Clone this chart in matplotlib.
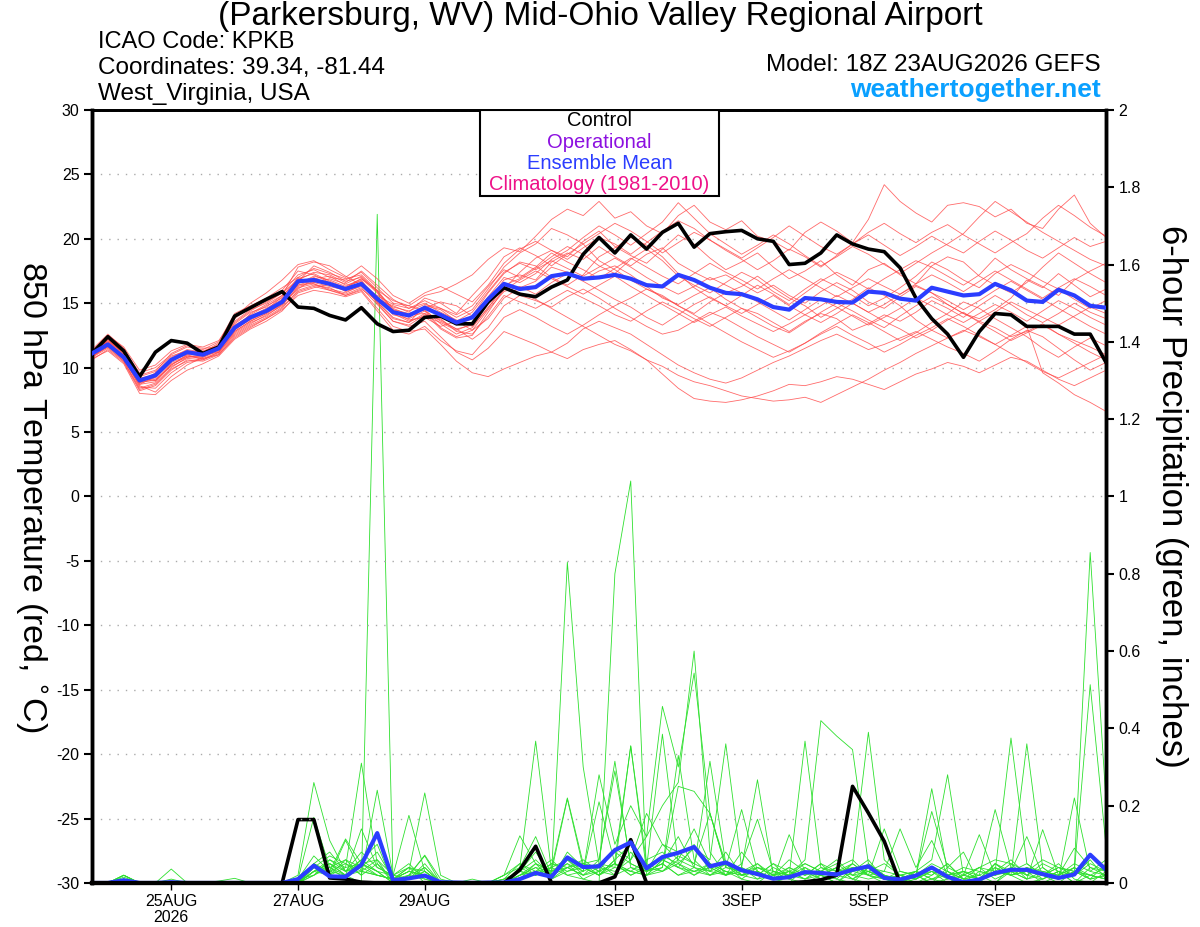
import matplotlib.pyplot as plt
import numpy as np
import pandas as pd
from matplotlib.patches import Rectangle

# --- Data (GEFS 18Z 23AUG2026, 6-hourly) ---
times = pd.date_range('2026-08-23 18:00', periods=65, freq='6h')

tick_dates = pd.to_datetime(['2026-08-25', '2026-08-27', '2026-08-29', '2026-09-01',
                             '2026-09-03', '2026-09-05', '2026-09-07'])
tick_labels = ['25AUG\n2026', '27AUG', '29AUG', '1SEP', '3SEP', '5SEP', '7SEP']

# 850 hPa temperature, control run
temp_control = [11.1, 12.4, 11.3, 9.3, 11.2, 12.1, 11.9, 11.1, 11.6, 14.0, 14.65, 15.3, 15.9,
                14.7, 14.6, 14.05, 13.7, 14.65, 13.4, 12.8, 12.9, 13.9, 14.0, 13.4, 13.4,
                15.1, 16.2, 15.7, 15.5, 16.25, 16.8, 18.8, 20.1, 18.9, 20.3, 19.2, 20.5,
                21.2, 19.35, 20.4, 20.55, 20.65, 20.0, 19.8, 18.0, 18.1, 18.9, 20.3, 19.6,
                19.2, 19.0, 17.75, 15.4, 13.8, 12.6, 10.8, 12.8, 14.2, 14.1, 13.2, 13.2,
                13.2, 12.6, 12.6, 10.4]

# 850 hPa temperature, ensemble mean
temp_mean = [11.1, 11.8, 10.8, 9.0, 9.4, 10.6, 11.2, 11.0, 11.5, 13.1, 13.9, 14.4, 15.1,
             16.7, 16.8, 16.5, 16.1, 16.5, 15.35, 14.3, 14.05, 14.65, 14.1, 13.5, 13.9,
             15.3, 16.5, 16.1, 16.25, 17.1, 17.3, 16.9, 17.0, 17.2, 16.9, 16.4, 16.3,
             17.2, 16.8, 16.2, 15.8, 15.7, 15.3, 14.7, 14.5, 15.4, 15.3, 15.1, 15.05,
             15.9, 15.8, 15.35, 15.2, 16.2, 15.9, 15.6, 15.7, 16.5, 16.0, 15.2, 15.1,
             16.05, 15.6, 14.8, 14.65]

# 850 hPa temperature, ensemble members
temp_members = [
    [11.0, 12.2, 11.0, 8.8, 9.6, 10.8, 11.4, 11.2, 11.8, 13.6, 14.5, 15.0, 15.8, 17.2, 17.6, 17.0, 16.8, 17.4, 16.2, 15.0, 14.8, 15.6, 15.9, 16.5, 17.2, 18.4, 19.3, 19.0, 20.2, 21.5, 22.3, 21.8, 22.9, 21.6, 22.1, 21.0, 20.4, 21.8, 22.6, 21.3, 20.7, 21.4, 20.2, 19.8, 19.1, 20.5, 21.3, 20.6, 19.7, 21.5, 24.2, 22.9, 22.0, 21.3, 22.6, 22.8, 22.5, 21.7, 22.3, 21.2, 20.8, 22.3, 23.4, 21.2, 20.1],
    [10.6, 11.4, 10.4, 8.2, 8.6, 9.8, 10.6, 10.5, 11.0, 12.4, 13.2, 13.8, 14.6, 16.0, 16.4, 16.2, 15.6, 16.0, 14.6, 13.2, 12.8, 13.0, 11.8, 10.5, 9.6, 9.3, 9.9, 10.4, 10.9, 11.2, 10.7, 11.4, 11.8, 12.1, 11.4, 10.6, 9.5, 8.4, 7.6, 7.4, 7.3, 7.5, 7.8, 8.2, 8.7, 8.6, 8.9, 9.3, 9.1, 8.7, 8.3, 8.9, 9.5, 9.9, 10.4, 10.1, 9.6, 10.2, 10.8, 10.5, 9.8, 9.1, 8.6, 9.2, 9.8],
    [11.3, 12.0, 11.2, 9.2, 9.0, 10.2, 11.0, 11.2, 11.3, 12.8, 13.6, 14.2, 15.0, 16.5, 17.1, 16.8, 16.3, 16.9, 15.8, 14.2, 13.6, 14.0, 13.5, 12.9, 13.4, 15.2, 16.8, 17.2, 16.8, 18.2, 18.9, 18.4, 19.4, 18.6, 17.9, 18.8, 19.3, 18.1, 17.4, 16.8, 17.2, 16.5, 15.8, 16.4, 15.6, 15.0, 15.9, 16.6, 16.0, 15.1, 14.6, 15.5, 16.3, 15.8, 14.9, 14.2, 13.8, 14.5, 15.4, 16.8, 16.2, 17.3, 16.4, 15.5, 16.1],
    [10.9, 11.7, 10.6, 8.6, 8.1, 9.3, 10.2, 10.8, 11.4, 12.9, 14.2, 14.9, 15.6, 17.8, 18.2, 17.9, 17.1, 16.4, 15.3, 14.8, 14.3, 15.4, 15.0, 14.2, 15.6, 16.9, 18.6, 19.3, 18.7, 17.9, 18.8, 19.6, 18.3, 17.6, 16.8, 16.1, 15.6, 14.8, 14.2, 15.1, 15.8, 16.3, 17.1, 16.2, 15.4, 14.8, 13.9, 14.6, 15.3, 16.2, 15.6, 14.8, 13.7, 12.9, 12.3, 12.8, 13.6, 13.1, 12.4, 12.8, 13.4, 12.6, 12.1, 11.6, 11.0],
    [11.2, 12.4, 11.3, 9.4, 9.8, 10.9, 11.3, 11.0, 11.2, 12.6, 13.4, 14.1, 14.8, 16.3, 16.6, 16.9, 16.5, 17.1, 15.9, 14.6, 14.1, 14.2, 13.0, 12.3, 12.5, 14.3, 16.1, 17.4, 18.5, 19.1, 18.6, 19.8, 20.6, 19.4, 18.7, 18.1, 19.2, 20.3, 19.6, 18.5, 17.6, 18.2, 18.9, 17.8, 16.9, 17.5, 18.3, 17.2, 16.4, 17.6, 18.1, 17.2, 16.5, 17.9, 18.6, 18.2, 17.1, 16.4, 15.8, 16.6, 17.8, 18.9, 18.1, 17.3, 16.6],
    [11.0, 11.9, 10.9, 8.9, 9.2, 10.4, 10.9, 10.7, 11.2, 13.3, 14.0, 14.6, 15.3, 16.9, 17.3, 16.7, 16.2, 16.8, 15.1, 13.9, 13.5, 14.8, 14.5, 13.6, 12.9, 13.8, 15.4, 16.2, 16.7, 17.8, 17.4, 16.8, 17.5, 17.9, 17.2, 16.3, 15.4, 14.9, 15.6, 16.2, 15.3, 14.6, 14.2, 13.5, 12.8, 13.6, 14.2, 13.8, 12.9, 13.4, 14.1, 13.6, 14.3, 15.2, 14.6, 13.9, 14.8, 15.6, 14.9, 14.1, 13.5, 14.2, 15.0, 14.3, 13.8],
    [11.1, 12.1, 11.1, 9.1, 9.5, 10.5, 11.1, 11.3, 11.7, 13.8, 14.7, 15.2, 16.0, 17.5, 17.2, 16.6, 15.9, 16.3, 15.6, 14.9, 14.6, 15.0, 14.3, 13.7, 13.2, 14.6, 16.4, 16.9, 17.7, 18.6, 19.4, 18.8, 17.9, 17.3, 18.4, 19.2, 18.3, 17.1, 16.4, 15.8, 16.6, 17.4, 16.8, 15.9, 15.2, 16.1, 16.9, 16.3, 15.6, 14.8, 15.4, 16.2, 17.1, 18.2, 17.6, 16.8, 16.2, 17.3, 18.0, 17.4, 16.7, 16.1, 15.3, 14.6, 15.2],
    [10.8, 11.5, 10.5, 8.4, 8.8, 10.0, 10.8, 10.9, 11.5, 13.0, 13.7, 14.3, 15.0, 16.4, 16.6, 16.3, 16.0, 16.6, 15.0, 13.6, 13.2, 13.6, 12.4, 11.2, 10.6, 11.5, 12.8, 12.3, 11.8, 11.2, 11.9, 13.0, 13.6, 13.1, 12.6, 11.8, 11.0, 10.2, 9.6, 9.1, 8.8, 9.2, 9.8, 10.4, 10.9, 11.5, 12.1, 12.6, 12.0, 11.4, 11.8, 12.3, 12.8, 12.2, 11.6, 11.1, 10.5, 11.3, 12.2, 12.9, 12.4, 11.5, 10.6, 9.8, 10.4],
    [11.2, 12.3, 11.4, 9.6, 10.0, 11.0, 11.6, 11.4, 12.0, 14.2, 14.8, 15.4, 16.2, 17.0, 16.5, 16.0, 15.6, 16.1, 15.2, 14.5, 14.2, 14.6, 15.1, 14.8, 14.0, 15.8, 17.3, 18.2, 17.9, 17.0, 16.4, 17.2, 18.6, 19.3, 20.1, 19.5, 18.6, 17.3, 16.2, 15.4, 14.8, 15.6, 16.4, 15.7, 14.9, 15.8, 16.7, 17.4, 16.8, 16.1, 16.9, 17.6, 18.3, 17.8, 17.1, 16.4, 17.2, 18.5, 17.6, 16.9, 16.3, 15.6, 16.8, 17.5, 18.1],
    [10.7, 11.3, 10.3, 8.0, 7.9, 9.0, 9.8, 10.3, 10.9, 12.2, 13.0, 13.6, 14.4, 15.8, 16.2, 16.5, 16.2, 16.9, 16.0, 15.2, 14.8, 14.4, 13.6, 13.0, 12.2, 13.1, 14.8, 15.6, 15.2, 14.7, 15.5, 16.1, 15.4, 14.6, 13.9, 13.2, 12.6, 12.9, 13.6, 14.3, 13.8, 13.1, 12.4, 11.8, 11.2, 11.9, 12.7, 13.4, 14.1, 13.5, 12.8, 12.1, 12.7, 13.5, 14.2, 15.1, 14.6, 13.8, 13.1, 12.4, 11.5, 10.8, 11.6, 12.3, 11.7],
    [11.4, 12.6, 11.5, 9.3, 9.7, 11.1, 11.7, 11.5, 11.6, 13.5, 14.4, 15.1, 15.8, 16.8, 17.4, 17.2, 16.6, 17.5, 16.4, 15.3, 14.6, 15.2, 14.6, 13.9, 14.5, 16.1, 17.8, 18.9, 19.6, 20.8, 20.3, 19.6, 20.4, 21.2, 20.6, 19.8, 18.9, 19.7, 20.5, 19.9, 19.1, 18.4, 17.6, 18.3, 19.2, 18.6, 17.8, 18.7, 19.6, 20.3, 19.5, 18.7, 19.4, 20.2, 19.5, 18.9, 19.8, 20.6, 19.9, 19.1, 18.5, 19.3, 20.1, 19.4, 19.8],
    [11.0, 11.8, 10.7, 8.7, 9.3, 10.6, 11.0, 10.6, 11.1, 12.5, 13.3, 13.9, 14.7, 15.9, 16.3, 16.0, 15.7, 16.2, 14.9, 13.6, 13.3, 14.1, 13.8, 12.8, 12.6, 14.0, 15.6, 15.1, 14.6, 15.3, 16.0, 15.4, 14.8, 14.1, 13.6, 14.4, 15.1, 14.5, 13.8, 13.2, 13.9, 14.6, 13.9, 13.2, 12.7, 13.5, 14.3, 15.0, 14.4, 13.7, 13.1, 14.0, 14.8, 15.5, 14.9, 14.2, 13.6, 14.3, 15.1, 14.5, 13.9, 13.3, 14.0, 14.7, 14.2],
    [11.1, 12.0, 11.0, 8.9, 9.0, 10.3, 10.8, 11.0, 11.4, 12.9, 13.8, 14.5, 15.5, 17.0, 17.7, 17.3, 16.9, 17.2, 16.0, 14.5, 13.9, 14.7, 14.1, 13.3, 13.8, 15.5, 17.0, 16.6, 17.3, 18.4, 19.1, 20.1, 21.0, 20.3, 19.5, 20.4, 21.3, 22.8, 21.6, 20.4, 19.6, 18.8, 19.5, 20.3, 19.6, 18.7, 17.9, 18.6, 19.4, 18.8, 18.0, 17.3, 18.1, 18.9, 19.6, 20.4, 21.7, 22.9, 22.1, 21.3, 20.5, 19.8, 19.1, 18.4, 17.9],
    [10.9, 11.6, 10.8, 8.5, 8.4, 9.6, 10.4, 10.6, 11.2, 12.7, 13.5, 14.0, 14.9, 16.1, 16.9, 17.1, 16.4, 16.7, 15.5, 14.1, 13.8, 14.4, 13.1, 12.4, 12.9, 14.5, 15.9, 16.3, 15.7, 16.6, 17.3, 16.7, 16.0, 15.3, 14.7, 13.9, 13.3, 14.1, 14.9, 15.5, 14.8, 14.2, 14.9, 15.6, 14.8, 14.1, 13.5, 14.2, 15.0, 14.3, 13.6, 13.0, 12.3, 12.9, 13.7, 14.3, 13.5, 12.8, 12.1, 12.7, 13.3, 12.6, 11.9, 11.2, 10.6],
    [11.2, 12.2, 11.2, 9.0, 9.3, 10.7, 11.2, 11.1, 11.6, 13.2, 14.1, 14.8, 15.4, 16.6, 17.0, 16.4, 16.2, 16.5, 15.4, 14.7, 14.4, 14.9, 14.6, 14.1, 14.8, 16.3, 17.6, 17.0, 17.8, 18.9, 18.2, 17.6, 16.9, 17.7, 18.5, 17.8, 17.1, 16.5, 17.3, 18.1, 17.4, 16.8, 16.1, 16.9, 17.6, 16.9, 16.2, 15.5, 16.2, 16.9, 16.3, 15.7, 16.5, 17.2, 16.6, 15.9, 16.7, 17.5, 16.8, 16.1, 15.4, 16.2, 16.9, 16.3, 15.6],
    [10.8, 11.7, 10.6, 8.8, 9.1, 10.1, 10.7, 10.8, 11.3, 12.8, 13.6, 14.2, 14.9, 16.2, 16.5, 16.1, 15.8, 16.4, 15.1, 13.8, 13.5, 14.2, 13.7, 13.0, 13.3, 14.9, 16.2, 15.8, 15.3, 14.6, 13.9, 13.2, 12.5, 11.8, 11.3, 10.6, 10.1, 9.4, 8.9, 8.6, 8.2, 7.8, 7.6, 7.4, 7.5, 7.7, 7.3, 7.9, 8.5, 9.1, 9.8, 10.4, 11.1, 11.7, 12.3, 12.9, 12.4, 11.8, 12.5, 13.2, 9.6, 8.8, 7.9, 7.3, 6.6],
    [11.3, 12.5, 11.6, 9.8, 10.2, 11.3, 11.8, 11.6, 12.1, 13.9, 15.0, 15.8, 16.8, 18.0, 18.3, 17.6, 17.0, 17.9, 16.9, 15.6, 15.0, 15.8, 16.3, 15.7, 15.1, 16.4, 18.1, 19.2, 19.8, 19.1, 18.4, 19.3, 20.1, 19.6, 18.8, 19.7, 20.6, 21.4, 20.8, 19.9, 19.2, 18.5, 19.3, 20.1, 21.0, 20.2, 19.4, 18.8, 19.6, 20.5, 21.2, 20.4, 19.7, 20.5, 21.1, 20.3, 19.6, 18.9, 19.7, 20.4, 21.6, 22.6, 21.8, 20.9, 20.2],
    [11.0, 11.9, 10.9, 8.7, 8.9, 10.2, 10.9, 10.9, 11.4, 13.1, 13.9, 14.4, 15.2, 16.4, 16.8, 16.6, 16.0, 16.6, 15.2, 14.3, 14.0, 14.5, 13.4, 12.6, 13.1, 14.7, 16.0, 16.8, 17.5, 16.9, 16.3, 15.7, 16.4, 17.1, 16.3, 15.6, 14.9, 14.2, 13.5, 14.1, 14.7, 14.0, 13.4, 12.8, 13.4, 14.1, 14.8, 15.6, 15.0, 14.3, 14.9, 15.7, 16.4, 15.8, 15.2, 14.5, 15.2, 16.0, 16.7, 16.0, 15.3, 14.6, 13.9, 13.2, 12.6],
    [11.1, 12.1, 11.2, 9.2, 9.4, 10.6, 11.3, 11.2, 11.9, 13.4, 14.3, 14.7, 15.6, 16.7, 17.9, 17.4, 16.7, 17.0, 15.9, 14.4, 13.7, 13.9, 13.2, 13.6, 14.3, 15.9, 17.4, 18.1, 17.6, 18.3, 17.7, 17.1, 17.8, 18.5, 17.8, 17.0, 16.3, 15.7, 16.3, 17.0, 16.4, 15.8, 15.1, 14.4, 13.7, 14.5, 15.3, 14.7, 14.0, 13.3, 13.9, 14.6, 15.4, 14.8, 14.1, 13.5, 14.2, 14.9, 14.3, 13.6, 14.4, 15.2, 14.6, 13.9, 13.3],
    [10.9, 11.6, 10.5, 8.3, 8.7, 9.9, 10.5, 10.7, 11.0, 12.3, 13.1, 13.8, 14.5, 15.6, 16.0, 15.8, 15.5, 15.9, 14.4, 12.9, 12.6, 13.2, 12.1, 11.3, 11.0, 12.4, 13.9, 14.5, 13.9, 13.2, 12.6, 13.3, 14.1, 14.8, 15.4, 16.1, 15.5, 14.8, 14.1, 13.4, 12.7, 12.0, 11.4, 10.8, 11.3, 11.9, 12.6, 13.2, 12.5, 11.9, 11.2, 11.8, 12.5, 13.1, 13.8, 13.2, 12.5, 11.8, 11.1, 10.4, 9.7, 9.2, 9.8, 10.4, 11.0],
]

# 6-hour precipitation (inches), control run
precip_control = [0, 0, 0.005, 0, 0, 0, 0, 0, 0, 0, 0, 0, 0,
                  0.164, 0.164, 0.013, 0.01, 0.002, 0, 0, 0, 0, 0, 0, 0,
                  0, 0, 0.034, 0.095, 0, 0, 0, 0, 0.016, 0.112, 0, 0, 0, 0,
                  0, 0, 0, 0, 0, 0, 0.003, 0.008, 0.02, 0.25, 0.181, 0.108, 0,
                  0, 0, 0, 0, 0, 0, 0, 0, 0, 0, 0, 0, 0]

# 6-hour precipitation (inches), ensemble mean
precip_mean = [0, 0, 0.007, 0, 0, 0.002, 0, 0, 0, 0, 0, 0, 0,
               0.01, 0.045, 0.017, 0.016, 0.047, 0.129, 0.007, 0.012, 0.019, 0.002, 0.001, 0,
               0.001, 0.001, 0.01, 0.026, 0.016, 0.066, 0.041, 0.043, 0.085, 0.105, 0.038, 0.067,
               0.078, 0.093, 0.043, 0.053, 0.033, 0.023, 0.011, 0.015, 0.028, 0.026, 0.022, 0.034,
               0.043, 0.013, 0.009, 0.019, 0.04, 0.016, 0.002, 0.009, 0.026, 0.034, 0.034, 0.023,
               0.013, 0.022, 0.073, 0.034]

# 6-hour precipitation (inches), ensemble members
precip_members = [
    [0, 0, 0.01, 0, 0, 0, 0, 0, 0, 0, 0, 0, 0,
     0, 0.03, 0.05, 0.02, 0, 1.73, 0, 0.01, 0.02, 0, 0, 0,
     0, 0, 0.02, 0.05, 0.01, 0.08, 0.04, 0.02, 0.06, 0.1, 0.03, 0.05, 0.12, 0.04,
     0.02, 0.05, 0.01, 0, 0.03, 0.01, 0, 0.02, 0.04, 0.01, 0, 0, 0.02,
     0, 0.01, 0.03, 0, 0, 0.05, 0.02, 0, 0.01, 0.03, 0, 0.04, 0.02],
    [0, 0, 0.02, 0, 0, 0, 0, 0, 0, 0, 0, 0, 0,
     0, 0.05, 0.08, 0.03, 0.06, 0.1, 0, 0.02, 0.01, 0, 0, 0,
     0, 0, 0.04, 0.12, 0.02, 0.83, 0.3, 0.05, 0.02, 0.08, 0.03, 0.1, 0.06, 0.14,
     0.05, 0.02, 0.08, 0.03, 0.01, 0, 0.04, 0.02, 0, 0.03, 0.06, 0.01, 0,
     0.02, 0, 0.04, 0.08, 0, 0, 0.03, 0.12, 0.02, 0.05, 0.01, 0, 0.03],
    [0, 0, 0, 0, 0, 0, 0, 0, 0, 0, 0, 0, 0,
     0, 0.02, 0.04, 0.01, 0.05, 0.03, 0, 0.01, 0.05, 0, 0, 0,
     0, 0, 0.01, 0.03, 0.06, 0.02, 0.01, 0, 0.8, 1.04, 0.02, 0.06, 0.04, 0.1,
     0.03, 0.08, 0.02, 0.05, 0.01, 0.03, 0.02, 0.05, 0.01, 0, 0.04, 0.02, 0,
     0.01, 0.04, 0.02, 0, 0.01, 0.03, 0.06, 0.02, 0.04, 0.01, 0.03, 0.02, 0.01],
    [0, 0, 0.015, 0, 0, 0, 0, 0, 0, 0, 0, 0, 0,
     0.01, 0.07, 0.03, 0.05, 0.02, 0.24, 0.02, 0.04, 0, 0, 0, 0,
     0, 0.01, 0.05, 0.02, 0.04, 0.22, 0.05, 0.03, 0.09, 0.06, 0.12, 0.2, 0.26, 0.6,
     0.08, 0.02, 0.04, 0.01, 0.02, 0.06, 0.03, 0.01, 0.02, 0.05, 0.02, 0, 0.01,
     0, 0.02, 0.05, 0.01, 0, 0.04, 0.02, 0.03, 0, 0.02, 0.05, 0.03, 0.06],
    [0, 0, 0, 0, 0, 0, 0, 0, 0, 0, 0, 0, 0,
     0, 0.04, 0.02, 0.06, 0.04, 0.08, 0.01, 0.03, 0.02, 0, 0, 0,
     0, 0, 0.03, 0.06, 0.02, 0.05, 0.03, 0.28, 0.1, 0.2, 0.12, 0.457, 0.3, 0.543,
     0.18, 0.05, 0.02, 0.03, 0.01, 0.02, 0.05, 0.03, 0.06, 0.02, 0.01, 0.02, 0,
     0.03, 0.01, 0, 0.02, 0.04, 0.01, 0.03, 0.05, 0.02, 0, 0.03, 0.01, 0.02],
    [0, 0, 0.02, 0, 0, 0.036, 0, 0, 0, 0, 0, 0, 0,
     0, 0.03, 0.06, 0.04, 0.31, 0.05, 0, 0.02, 0.07, 0, 0, 0,
     0, 0.02, 0.04, 0.367, 0.03, 0.06, 0.02, 0.04, 0.08, 0.05, 0.03, 0.07, 0.05, 0.09,
     0.06, 0.36, 0.04, 0.02, 0.05, 0.01, 0.03, 0.02, 0, 0.04, 0.03, 0.01, 0.02,
     0.01, 0.03, 0, 0.02, 0.01, 0.05, 0.03, 0.01, 0.02, 0.04, 0.02, 0.06, 0.01],
    [0, 0, 0, 0, 0, 0, 0, 0, 0, 0, 0, 0, 0,
     0.02, 0.26, 0.11, 0.03, 0.05, 0.02, 0.01, 0.04, 0.03, 0, 0, 0,
     0, 0, 0.02, 0.04, 0.01, 0.03, 0.05, 0.02, 0.04, 0.03, 0.06, 0.08, 0.04, 0.02,
     0.05, 0.03, 0.02, 0.01, 0.04, 0.02, 0.06, 0.42, 0.38, 0.345, 0.05, 0.02, 0,
     0.02, 0, 0.01, 0.03, 0.02, 0, 0.04, 0.02, 0.01, 0.03, 0, 0.02, 0.04],
    [0, 0, 0.01, 0, 0, 0, 0, 0, 0, 0, 0, 0, 0,
     0, 0.05, 0.02, 0.11, 0.03, 0.06, 0, 0.01, 0.04, 0, 0, 0,
     0, 0, 0.03, 0.02, 0.05, 0.04, 0.02, 0.06, 0.29, 0.05, 0.03, 0.04, 0.33, 0.06,
     0.02, 0.04, 0.19, 0.03, 0.01, 0.02, 0.367, 0.04, 0.03, 0.05, 0.39, 0.06, 0.02,
     0.03, 0.01, 0.02, 0, 0.03, 0.02, 0.05, 0.01, 0.03, 0.02, 0.04, 0.01, 0.02],
    [0, 0, 0, 0, 0, 0, 0, 0, 0, 0, 0, 0, 0,
     0, 0.03, 0.05, 0.02, 0.14, 0.04, 0.02, 0.175, 0.03, 0, 0, 0,
     0, 0, 0.02, 0.04, 0.03, 0.05, 0.01, 0.03, 0.02, 0.04, 0.03, 0.05, 0.02, 0.04,
     0.03, 0.02, 0.04, 0.267, 0.02, 0.01, 0.03, 0.02, 0.04, 0.01, 0.03, 0.05, 0.02,
     0.01, 0.04, 0.02, 0.03, 0.01, 0.03, 0.375, 0.05, 0.02, 0.01, 0.04, 0.855, 0.21],
    [0, 0, 0.02, 0, 0, 0, 0, 0, 0, 0, 0, 0, 0,
     0.01, 0.17, 0.04, 0.06, 0.02, 0.05, 0.01, 0.03, 0.233, 0.02, 0, 0,
     0, 0, 0.01, 0.03, 0.02, 0.04, 0.06, 0.03, 0.05, 0.02, 0.04, 0.385, 0.05, 0.03,
     0.04, 0.02, 0.03, 0.05, 0.02, 0.03, 0.01, 0.04, 0.02, 0.03, 0.02, 0.01, 0.03,
     0.02, 0.05, 0.03, 0.01, 0.02, 0.04, 0.02, 0.36, 0.04, 0.01, 0.03, 0.513, 0.095],
    [0, 0, 0, 0, 0, 0, 0, 0, 0, 0, 0, 0, 0,
     0, 0.04, 0.03, 0.114, 0.05, 0.03, 0, 0.02, 0.072, 0.01, 0, 0,
     0, 0.02, 0.122, 0.05, 0.03, 0.217, 0.04, 0.02, 0.06, 0.354, 0.05, 0.03, 0.06, 0.04,
     0.315, 0.05, 0.02, 0.04, 0.03, 0.02, 0.01, 0.03, 0.02, 0.04, 0.03, 0.02, 0.01,
     0.03, 0.06, 0.28, 0.02, 0.01, 0.03, 0.02, 0.04, 0.01, 0.03, 0.02, 0.05, 0.03],
    [0, 0, 0, 0, 0, 0, 0, 0, 0, 0, 0, 0, 0,
     0, 0.02, 0.06, 0.03, 0.08, 0.04, 0.02, 0.01, 0.03, 0, 0, 0,
     0, 0.01, 0.03, 0.08, 0.02, 0.06, 0.03, 0.21, 0.05, 0.03, 0.02, 0.04, 0.25, 0.237,
     0.18, 0.04, 0.03, 0.02, 0.01, 0.125, 0.03, 0.02, 0.01, 0.05, 0.02, 0.14, 0.03,
     0.02, 0.244, 0.03, 0.01, 0.02, 0.19, 0.04, 0.03, 0.02, 0.01, 0.22, 0.03, 0.02],
    [0, 0, 0.01, 0, 0, 0, 0, 0, 0.005, 0.012, 0, 0, 0,
     0, 0.03, 0.04, 0.02, 0.03, 0.02, 0.01, 0.04, 0.02, 0, 0, 0,
     0, 0.02, 0.05, 0.03, 0.01, 0.04, 0.05, 0.06, 0.315, 0.04, 0.02, 0.03, 0.05, 0.02,
     0.04, 0.02, 0.05, 0.165, 0.03, 0.02, 0.04, 0.01, 0.03, 0.02, 0.05, 0.02, 0.01,
     0.02, 0.185, 0.04, 0.02, 0.125, 0.02, 0.03, 0.01, 0.138, 0.02, 0.04, 0.02, 0.01],
    [0, 0, 0, 0, 0, 0.01, 0, 0, 0, 0, 0, 0, 0,
     0, 0.05, 0.03, 0.02, 0.06, 0.03, 0.02, 0.05, 0.01, 0, 0, 0,
     0, 0, 0.02, 0.03, 0.04, 0.02, 0.03, 0.05, 0.04, 0.355, 0.03, 0.05, 0.02, 0.03,
     0.02, 0.03, 0.01, 0.04, 0.02, 0.04, 0.02, 0.05, 0.03, 0.04, 0.02, 0.03, 0.14,
     0.04, 0.11, 0.02, 0.03, 0.01, 0.05, 0.02, 0.04, 0.03, 0.02, 0.09, 0.04, 0.03],
    [0, 0, 0.01, 0, 0, 0, 0, 0, 0, 0, 0, 0, 0,
     0, 0.04, 0.07, 0.05, 0.03, 0.02, 0.01, 0.03, 0.02, 0, 0, 0,
     0, 0.01, 0.03, 0.02, 0.04, 0.06, 0.05, 0.04, 0.03, 0.06, 0.18, 0.1, 0.08, 0.05,
     0.18, 0.04, 0.03, 0.02, 0.05, 0.03, 0.01, 0.02, 0.04, 0.06, 0.02, 0.01, 0.02,
     0.03, 0.02, 0.05, 0.01, 0.04, 0.06, 0.05, 0.03, 0.02, 0.04, 0.03, 0.01, 0.05],
    [0, 0, 0.02, 0, 0, 0, 0, 0, 0, 0, 0, 0, 0,
     0, 0.03, 0.02, 0.04, 0.05, 0.06, 0.02, 0.01, 0.03, 0, 0, 0,
     0, 0, 0.01, 0.05, 0.03, 0.04, 0.02, 0.03, 0.05, 0.02, 0.04, 0.03, 0.07, 0.05,
     0.03, 0.05, 0.03, 0.04, 0.02, 0.03, 0.05, 0.03, 0.02, 0.01, 0.04, 0.03, 0.02,
     0.01, 0.03, 0.02, 0.04, 0.03, 0.02, 0.04, 0.02, 0.05, 0.03, 0.02, 0.07, 0.04],
    [0, 0, 0.01, 0, 0, 0, 0, 0, 0, 0, 0, 0, 0,
     0.01, 0.02, 0.05, 0.03, 0.04, 0.02, 0.01, 0.02, 0.04, 0, 0, 0.01,
     0, 0, 0.04, 0.02, 0.05, 0.03, 0.04, 0.02, 0.05, 0.03, 0.02, 0.06, 0.04, 0.03,
     0.05, 0.03, 0.02, 0.03, 0.01, 0.04, 0.02, 0.03, 0.05, 0.02, 0.03, 0.01, 0,
     0.02, 0.03, 0.01, 0.02, 0.04, 0.03, 0.02, 0.03, 0.06, 0.04, 0.03, 0.02, 0.01],
]

# --- Figure ---
plt.rcParams['font.family'] = ['Liberation Sans', 'DejaVu Sans']
plt.rcParams['axes.unicode_minus'] = False
fig = plt.figure(figsize=(12, 9.27), dpi=100)

ax = fig.add_axes([0.0767, 0.0475, 0.845, 0.8339])
ax2 = ax.twinx()

# temperature lines above the precipitation axis
ax.set_zorder(ax2.get_zorder() + 1)
ax.patch.set_visible(False)

for m in temp_members:
    ax.plot(times, m, color='#ff4545', lw=0.6, alpha=0.8, zorder=2)
ax.plot(times, temp_control, color='black', lw=2.6, zorder=4)
ax.plot(times, temp_mean, color='#2b3dff', lw=3.0, zorder=5)

for m in precip_members:
    ax2.plot(times, m, color='#2ee02e', lw=0.6, zorder=2)
ax2.plot(times, precip_control, color='black', lw=2.6, zorder=4)
ax2.plot(times, precip_mean, color='#2b3dff', lw=3.0, zorder=5)

# axes ranges and ticks
ax.set_xlim(times[0], times[-1])
ax.set_ylim(-30, 30)
ax2.set_ylim(0, 2)
ax.set_yticks(np.arange(-30, 31, 5))
ax2.set_yticks(np.arange(0, 2.01, 0.2))
ax2.set_yticklabels(['0', '0.2', '0.4', '0.6', '0.8', '1', '1.2', '1.4', '1.6', '1.8', '2'])
ax.set_xticks(tick_dates)
ax.set_xticklabels(tick_labels)

ax.tick_params(axis='y', direction='out', length=6, width=1.5, labelsize=11.5, pad=3)
ax2.tick_params(axis='y', direction='out', length=6, width=1.5, labelsize=11.5, pad=3)
ax.tick_params(axis='x', direction='out', length=5, width=1.0, labelsize=11.5, pad=3)
for lbl in ax.get_xticklabels():
    lbl.set_linespacing(1.05)

ax.yaxis.grid(True, linestyle=(0, (1, 5)), color='#aaaaaa', lw=1.0)
ax.set_axisbelow(True)

for a in (ax, ax2):
    a.spines['left'].set_linewidth(2.5)
    a.spines['right'].set_linewidth(2.5)
    a.spines['bottom'].set_linewidth(3.0)
    a.spines['top'].set_linewidth(2.0)

ax.set_ylabel('850 hPa Temperature (red, $^{\\circ}$C)', fontsize=24.5, rotation=-90,
              va='center', ha='center')
ax.yaxis.set_label_coords(-0.061, 0.5)
ax2.set_ylabel('6-hour Precipitation (green, inches)', fontsize=25, rotation=-90,
               va='center', ha='center')
ax2.yaxis.set_label_coords(1.065, 0.5)

# legend box
ax.add_patch(Rectangle((0.3826, 0.8887), 0.2357, 0.1113, transform=ax.transAxes,
                       facecolor='white', edgecolor='black', lw=1.5, zorder=10))
legend_items = [('Control', 'black'), ('Operational', '#8c10e0'),
                ('Ensemble Mean', '#2b3dff'), ('Climatology (1981-2010)', '#ee1188')]
for k, (txt, col) in enumerate(legend_items):
    ax.text(0.5005, 0.9858 - k * 0.0276, txt, color=col, fontsize=14.5,
            ha='center', va='center', transform=ax.transAxes, zorder=11)

# header text (positioned by baseline)
fig.text(0.5, 0.9725, '(Parkersburg, WV) Mid-Ohio Valley Regional Airport',
         fontsize=24, ha='center', va='baseline')
fig.text(0.0817, 0.9485, 'ICAO Code: KPKB', fontsize=17, ha='left', va='baseline')
fig.text(0.0817, 0.9205, 'Coordinates: 39.34, -81.44', fontsize=17.5, ha='left', va='baseline')
fig.text(0.0817, 0.8921, 'West_Virginia, USA', fontsize=17.5, ha='left', va='baseline')
fig.text(0.9175, 0.9234, 'Model: 18Z 23AUG2026 GEFS', fontsize=17.5, ha='right', va='baseline')
fig.text(0.9175, 0.8954, 'weathertogether.net', fontsize=19, fontweight='bold',
         color='#0aa0ff', ha='right', va='baseline')

fig.savefig('out.png', dpi=100)
